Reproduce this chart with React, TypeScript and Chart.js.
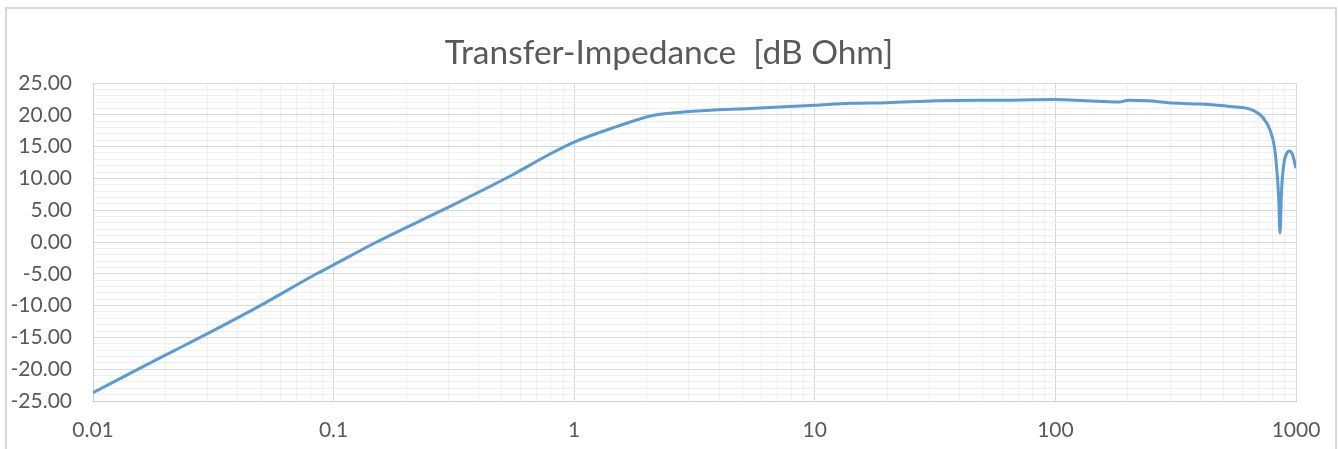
import React, { useEffect, useRef } from "react";
import { Chart, registerables } from "chart.js";

Chart.register(...registerables);

// Frequency (log axis) and transfer impedance in dB Ohm
const frequencies: number[] = [
  0.01, 0.0152, 0.0202, 0.0279, 0.0485, 0.085, 0.1, 0.151, 0.29, 0.55, 0.79, 1.0,
  1.49, 2.12, 3.0, 5.37, 10, 14, 19.9, 32, 60.7, 100, 134, 184, 201, 243, 294, 392,
  531, 664, 731, 780, 813, 830, 847, 858, 871, 891, 914, 938, 968, 1000,
];
const impedanceDb: number[] = [
  -23.7, -20.1, -17.7, -15.0, -10.2, -5.0, -3.6, 0.0, 5.2, 10.5, 13.8, 15.7,
  18.1, 19.9, 20.5, 21.0, 21.5, 21.8, 21.9, 22.2, 22.3, 22.4, 22.2, 22.0, 22.3, 22.2, 21.9, 21.7,
  21.3, 20.7, 19.5, 17.6, 15.0, 11.9, 7.1, 1.4, 8.2, 12.4, 13.9, 14.3, 13.7, 11.6,
];

const xDecades: number[] = [0.01, 0.1, 1, 10, 100, 1000];
const xDecadeLabels: string[] = ["0.01", "0.1", "1", "10", "100", "1000"];
const yMin = -25;
const yMax = 25;
const yMajorStep = 5;
const yMinorStep = 1;

const title = "Transfer-Impedance  [dB Ohm]";

const TEXT = "#595959";
const MAJOR = "#d9d9d9";
const MINOR = "#f0f0f0";
const LINE = "#5b9bd5";
const FONT = "Lato, 'Open Sans', sans-serif";

function isDecade(v: number): boolean {
  const l = Math.log10(v);
  return Math.abs(l - Math.round(l)) < 1e-6;
}

// centre the title across the whole canvas, as in the reference
const centerTitle = {
  id: "centerTitle",
  afterLayout(chart: any) {
    const t = chart.titleBlock;
    if (t) {
      t.left = 0;
      t.right = chart.width;
      t.width = chart.width;
    }
  },
};

export default function App() {
  const ref = useRef<HTMLCanvasElement | null>(null);

  useEffect(() => {
    if (!ref.current) return;
    const points = frequencies.map((f, i) => ({ x: f, y: impedanceDb[i] }));

    const chart = new Chart(ref.current, {
      type: "line",
      data: {
        datasets: [
          {
            data: points,
            borderColor: LINE,
            borderWidth: 3,
            pointRadius: 0,
            cubicInterpolationMode: "monotone",
            fill: false,
          },
        ],
      },
      plugins: [centerTitle],
      options: {
        animation: false,
        responsive: false,
        devicePixelRatio: 1,
        layout: { padding: { left: 0, right: 42, top: 20, bottom: 0 } },
        plugins: {
          legend: { display: false },
          tooltip: { enabled: false },
          title: {
            display: true,
            text: title,
            color: TEXT,
            font: { family: FONT, size: 33.5, weight: "normal", lineHeight: 1.2 },
            padding: { top: 13, bottom: 9.8 },
          },
        },
        scales: {
          x: {
            type: "logarithmic",
            min: xDecades[0],
            max: xDecades[xDecades.length - 1],
            afterBuildTicks: (scale: any) => {
              const ticks: { value: number }[] = [];
              for (let d = 0; d < xDecades.length; d++) {
                const base = xDecades[d];
                ticks.push({ value: base });
                if (d < xDecades.length - 1) {
                  for (let k = 2; k <= 9; k++) ticks.push({ value: +(base * k).toPrecision(6) });
                }
              }
              scale.ticks = ticks;
            },
            afterFit: (scale: any) => {
              scale.height = 48;
            },
            ticks: {
              autoSkip: false,
              maxRotation: 0,
              padding: 17,
              color: TEXT,
              font: { family: FONT, size: 21 },
              callback: (v: any) => {
                const idx = xDecades.findIndex((d) => Math.abs(d - Number(v)) / d < 1e-6);
                return idx >= 0 ? xDecadeLabels[idx] : "";
              },
            },
            grid: {
              drawTicks: false,
              color: (ctx: any) => (ctx.tick && isDecade(ctx.tick.value) ? MAJOR : MINOR),
              lineWidth: 1,
            },
            border: { display: true, color: "#cfcfcf", width: 1 },
          },
          y: {
            type: "linear",
            min: yMin,
            max: yMax,
            afterFit: (scale: any) => {
              scale.width = 93;
            },
            ticks: {
              stepSize: yMinorStep,
              autoSkip: false,
              padding: 21,
              color: TEXT,
              font: { family: FONT, size: 21 },
              callback: (v: any) => {
                const n = Number(v);
                return Math.abs(n % yMajorStep) < 1e-9 ? n.toFixed(2) : "";
              },
            },
            grid: {
              drawTicks: false,
              color: (ctx: any) =>
                ctx.tick && Math.abs(ctx.tick.value % yMajorStep) < 1e-9 ? MAJOR : MINOR,
              lineWidth: 1,
            },
            border: { display: true, color: "#cfcfcf", width: 1 },
          },
        },
      },
    });
    return () => chart.destroy();
  }, []);

  return (
    <div
      style={{
        position: "fixed",
        left: 0,
        top: 0,
        width: 1338,
        height: 449,
        overflow: "hidden",
        background: "#ffffff",
      }}
    >
      <div
        style={{
          position: "absolute",
          left: 5,
          top: 7,
          width: 1332,
          height: 500,
          boxSizing: "border-box",
          border: "2px solid #d9d9d9",
        }}
      />
      <canvas
        ref={ref}
        width={1338}
        height={449}
        style={{ position: "absolute", left: 0, top: 0, width: 1338, height: 449 }}
      />
    </div>
  );
}
